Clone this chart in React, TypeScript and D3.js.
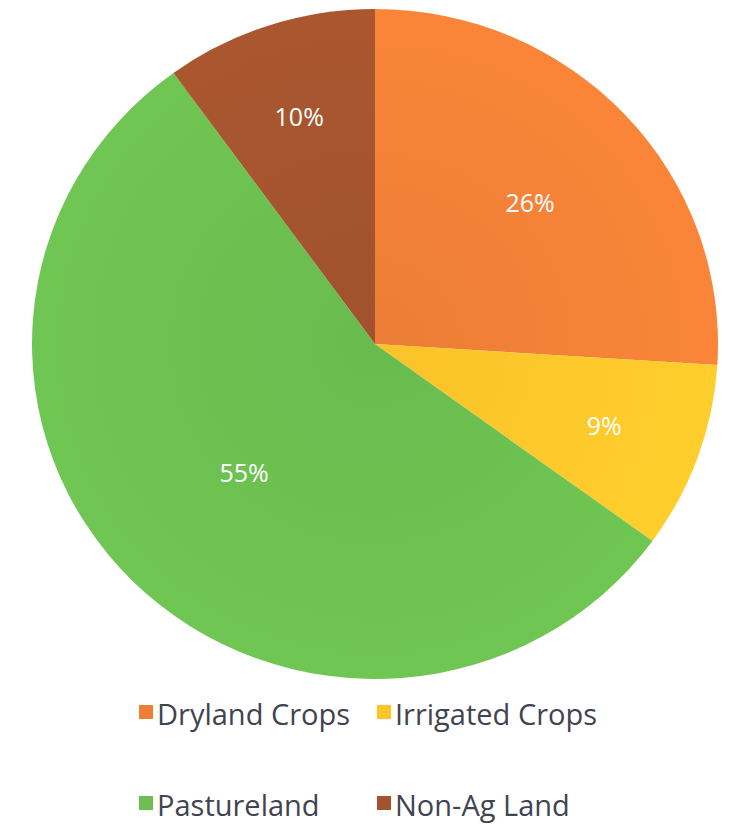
import React from "react";
import * as d3 from "d3";

// Land use shares, clockwise from 12 o'clock
const categories = ["Dryland Crops", "Irrigated Crops", "Pastureland", "Non-Ag Land"];
const shares = [26, 9, 55, 10];
const colors = ["#F07F36", "#FDC52A", "#6BBE4F", "#A3532D"];
// radial position of each percentage label, as a fraction of the radius
const labelRadiusFrac = [0.62, 0.71, 0.54, 0.715];

const W = 733;
const H = 829;
const cx = 375;
const cy = 344;
const rx = 343;
const ry = 335;

export default function App() {
  const pie = d3.pie<number>().sort(null).value((d) => d);
  const arcs = pie(shares);
  const arcGen = d3.arc<d3.PieArcDatum<number>>().innerRadius(0).outerRadius(rx);

  const legendCols = [139, 377];
  const legendRows = [712, 803];

  return (
    <svg
      width={W}
      height={H}
      style={{ position: "absolute", left: 0, top: 0, background: "#fff" }}
      fontFamily="'Open Sans', 'Noto Sans', sans-serif"
    >
      <defs>
        {colors.map((c, i) => (
          <radialGradient key={i} id={`g${i}`} cx="0" cy="0" r={rx} gradientUnits="userSpaceOnUse">
            <stop offset="0%" stopColor={d3.color(c)!.darker(0.05).formatHex()} />
            <stop offset="100%" stopColor={d3.color(c)!.brighter(0.12).formatHex()} />
          </radialGradient>
        ))}
      </defs>
      <g transform={`translate(${cx},${cy}) scale(1,${ry / rx})`}>
        {arcs.map((a, i) => (
          <path key={i} d={arcGen(a)!} fill={`url(#g${i})`} />
        ))}
      </g>
      {arcs.map((a, i) => {
        const r = rx * labelRadiusFrac[i];
        const [x, y] = d3.arc<d3.PieArcDatum<number>>().innerRadius(r).outerRadius(r).centroid(a);
        return (
          <text
            key={i}
            x={cx + x}
            y={cy + y * (ry / rx)}
            textAnchor="middle"
            dominantBaseline="central"
            fill="#fff"
            fontSize={25}
            fontWeight={500}
          >
            {`${shares[i]}%`}
          </text>
        );
      })}
      {categories.map((c, i) => {
        const x = legendCols[i % 2];
        const y = legendRows[Math.floor(i / 2)];
        return (
          <g key={c} transform={`translate(${x},${y})`}>
            <rect x={0} y={-7} width={14} height={14} fill={colors[i]} />
            <text x={18} y={1} dominantBaseline="central" fontSize={29} fill="#3F4450">
              {c}
            </text>
          </g>
        );
      })}
    </svg>
  );
}
